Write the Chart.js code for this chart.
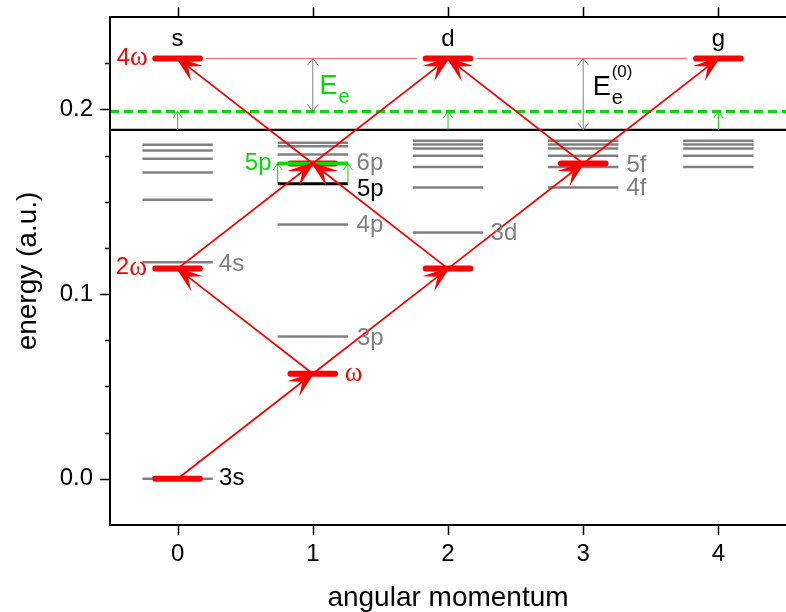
<!DOCTYPE html>
<html>
<head>
<meta charset="utf-8">
<script src="https://cdn.jsdelivr.net/npm/chart.js@4.4.1/dist/chart.umd.min.js"></script>
<style>
  html, body { margin: 0; padding: 0; background: #fff; }
  #wrap { width: 786px; height: 612px; }
</style>
</head>
<body>
<div id="wrap"><canvas id="grafico"></canvas></div>
<script>
// colunas (momento angular) e rotulos dos eixos
const momentos = [0, 1, 2, 3, 4];
const rotulosX = ['0', '1', '2', '3', '4'];
const ticksY = [0, 0.1, 0.2];
const rotulosY = ['0.0', '0.1', '0.2'];
const ticksYmenor = [0.025, 0.05, 0.075, 0.125, 0.15, 0.175, 0.225];

// niveis ligados (u.a., medidos a partir do 3s)
const niveisS = [0, 0.1173, 0.1511, 0.1658, 0.1733, 0.1777, 0.1808];
const niveisP = [0.0770, 0.1377, 0.1710, 0.1755, 0.1800, 0.1819];
const nivel5p = 0.1597;
const nivel5pDesloc = 0.1707;
const niveisD = [0.1334, 0.1577, 0.1688, 0.1749, 0.1788, 0.1810, 0.1830];
const niveisF = [0.1577, 0.1688, 0.1749, 0.1788, 0.1810, 0.1830];
const niveisG = [0.1688, 0.1749, 0.1788, 0.1810, 0.1830];

// limiar de ionizacao e limiar deslocado
const limiar = 0.1889;
const limiarDesloc = 0.1989;

// estados com n fotons (l, energia) e transicoes entre eles
const fotonL = [0, 1, 0, 2, 1, 3, 0, 2, 4];
const fotonE = [0, 0.0569, 0.1138, 0.1138, 0.1707, 0.1707, 0.2276, 0.2276, 0.2276];
const transicoes = [[0, 1], [1, 2], [1, 3], [2, 4], [3, 4], [3, 5], [4, 6], [4, 7], [5, 7], [5, 8]];

const VERMELHO = '#ff0000';
const VERDE = '#00dd00';
const CINZA = '#808080';
const SANS = '"Liberation Sans", Arial, sans-serif';
const SERIF = '"Liberation Serif", "Times New Roman", serif';

function seg(x1, y1, x2, y2) {
    return [{ x: x1, y: y1 }, { x: x2, y: y2 }];
}

function linha(data, cor, largura, ordem, extra) {
    return Object.assign({
        data: data,
        showLine: true,
        fill: false,
        borderColor: cor,
        borderWidth: largura,
        pointRadius: 0,
        order: ordem
    }, extra || {});
}

const datasets = [];
const meia = 0.26;

// niveis cinzas
[niveisS, niveisP, niveisD, niveisF, niveisG].forEach((lista, l) => {
    lista.forEach(e => datasets.push(linha(seg(l - meia, e, l + meia, e), CINZA, 2.5, 10)));
});
datasets.push(linha(seg(1 - meia, nivel5p, 1 + meia, nivel5p), '#000', 3, 9));
datasets.push(linha(seg(-0.5, limiar, 4.5, limiar), '#000', 2.2, 9));

// linha fina 4w
const topo = [6, 7, 8];
for (let i = 0; i < topo.length - 1; i++) {
    const a = topo[i], b = topo[i + 1];
    datasets.push(linha(seg(fotonL[a] + 0.21, fotonE[a], fotonL[b] - 0.23, fotonE[b]), '#ff5a5a', 1, 8));
}

// barras vermelhas
fotonL.forEach((l, i) => {
    datasets.push(linha(seg(l - 0.165, fotonE[i], l + 0.165, fotonE[i]), VERMELHO, 6, 7, { borderCapStyle: 'round' }));
});

// limiar deslocado (tracejado) e 5p deslocado
datasets.push(linha(seg(-0.5, limiarDesloc, 4.5, limiarDesloc), VERDE, 3, 6, { borderDash: [9, 5] }));
datasets.push(linha(seg(1 - meia, nivel5pDesloc, 1 + meia, nivel5pDesloc), VERDE, 3.5, 5));

// setas (haste pelo dataset, cabeca pelo plugin)
const setas = [];
transicoes.forEach(t => {
    setas.push({ x1: fotonL[t[0]], y1: fotonE[t[0]], x2: fotonL[t[1]], y2: fotonE[t[1]], cor: VERMELHO, w: 1.8, cab: 21, ang: 19, cw: 2, cheia: true });
});
setas.push({ x1: 1, y1: limiarDesloc, x2: 1, y2: fotonE[6], cor: CINZA, w: 1, cab: 9, ang: 38, cw: 1, duplo: true });
setas.push({ x1: 3, y1: limiar, x2: 3, y2: fotonE[6], cor: CINZA, w: 1, cab: 9, ang: 38, cw: 1, duplo: true });
[0, 2, 4].forEach(l => {
    setas.push({ x1: l, y1: limiar, x2: l, y2: limiarDesloc, cor: VERDE, w: 1, cab: 8, ang: 35, cw: 1 });
});
[1 - meia, 1 + meia].forEach(l => {
    setas.push({ x1: l, y1: nivel5p, x2: l, y2: nivel5pDesloc, cor: VERDE, w: 1, cab: 8, ang: 35, cw: 1 });
});
setas.forEach(s => datasets.push(linha(seg(s.x1, s.y1, s.x2, s.y2), s.cor, s.w, s.cor === VERMELHO ? 4 : 3)));

function cabeca(ctx, xa, ya, xb, yb, s) {
    const ang = Math.atan2(yb - ya, xb - xa);
    const a = s.ang * Math.PI / 180;
    const p1 = [xb - s.cab * Math.cos(ang - a), yb - s.cab * Math.sin(ang - a)];
    const p2 = [xb - s.cab * Math.cos(ang + a), yb - s.cab * Math.sin(ang + a)];
    ctx.save();
    ctx.strokeStyle = s.cor;
    ctx.fillStyle = s.cor;
    ctx.lineWidth = s.cw;
    ctx.lineJoin = 'miter';
    ctx.beginPath();
    if (s.cheia) {
        // ponta cheia com entalhe
        const k = s.cab * 0.55;
        ctx.moveTo(xb, yb);
        ctx.lineTo(p1[0], p1[1]);
        ctx.lineTo(xb - k * Math.cos(ang), yb - k * Math.sin(ang));
        ctx.lineTo(p2[0], p2[1]);
        ctx.closePath();
        ctx.fill();
        ctx.stroke();
    } else {
        ctx.moveTo(p1[0], p1[1]);
        ctx.lineTo(xb, yb);
        ctx.lineTo(p2[0], p2[1]);
        ctx.stroke();
    }
    ctx.restore();
}

function escreve(ctx, partes, x, y, alinhar) {
    let total = 0;
    partes.forEach(p => { ctx.font = p[1]; total += ctx.measureText(p[0]).width; });
    let cx = alinhar === 'right' ? x - total : (alinhar === 'center' ? x - total / 2 : x);
    ctx.textBaseline = 'middle';
    ctx.textAlign = 'left';
    partes.forEach(p => {
        ctx.font = p[1];
        ctx.fillStyle = p[2];
        ctx.fillText(p[0], cx, y + (p[3] || 0));
        cx += ctx.measureText(p[0]).width;
    });
}

const f24 = '24px ' + SANS;
const w26 = '27px ' + SERIF;
const rotulos = [
    { p: [['s', f24, '#000']], x: 0, y: 0.238, a: 'center' },
    { p: [['d', f24, '#000']], x: 2, y: 0.238, a: 'center' },
    { p: [['g', f24, '#000']], x: 4, y: 0.238, a: 'center' },
    { p: [['4', f24, VERMELHO], ['\u03c9', w26, VERMELHO]], x: -0.22, y: 0.2276, a: 'right' },
    { p: [['2', f24, VERMELHO], ['\u03c9', w26, VERMELHO]], x: -0.227, y: 0.1142, a: 'right' },
    { p: [['\u03c9', w26, VERMELHO]], x: 1.237, y: 0.0569, a: 'left' },
    { p: [['3s', f24, '#000']], x: 0.307, y: 0, a: 'left' },
    { p: [['4s', f24, CINZA]], x: 0.305, y: 0.116, a: 'left' },
    { p: [['3p', f24, CINZA]], x: 1.326, y: 0.0758, a: 'left' },
    { p: [['4p', f24, CINZA]], x: 1.324, y: 0.137, a: 'left' },
    { p: [['5p', f24, '#000']], x: 1.326, y: 0.1568, a: 'left' },
    { p: [['6p', f24, CINZA]], x: 1.324, y: 0.1709, a: 'left' },
    { p: [['5p', f24, VERDE]], x: 0.695, y: 0.171, a: 'right' },
    { p: [['3d', f24, CINZA]], x: 2.315, y: 0.133, a: 'left' },
    { p: [['5f', f24, CINZA]], x: 3.32, y: 0.1696, a: 'left' },
    { p: [['4f', f24, CINZA]], x: 3.32, y: 0.1574, a: 'left' }
];

const desenhos = {
    id: 'desenhos',
    afterDatasetsDraw(chart) {
        const ctx = chart.ctx;
        const sx = chart.scales.x, sy = chart.scales.y;
        setas.forEach(s => {
            const xa = sx.getPixelForValue(s.x1), ya = sy.getPixelForValue(s.y1);
            const xb = sx.getPixelForValue(s.x2), yb = sy.getPixelForValue(s.y2);
            cabeca(ctx, xa, ya, xb, yb, s);
            if (s.duplo) cabeca(ctx, xb, yb, xa, ya, s);
        });
    },
    afterDraw(chart) {
        const ctx = chart.ctx;
        const a = chart.chartArea;
        const sx = chart.scales.x, sy = chart.scales.y;
        ctx.save();
        // moldura
        ctx.strokeStyle = '#000';
        ctx.lineWidth = 2;
        ctx.beginPath();
        ctx.moveTo(a.right + 2, a.top);
        ctx.lineTo(a.left, a.top);
        ctx.lineTo(a.left, a.bottom);
        ctx.lineTo(a.right + 2, a.bottom);
        ctx.stroke();
        // marcas
        ctx.lineWidth = 1.5;
        ctx.beginPath();
        momentos.forEach(m => {
            const x = Math.round(sx.getPixelForValue(m)) + 0.5;
            ctx.moveTo(x, a.bottom); ctx.lineTo(x, a.bottom + 10);
            ctx.moveTo(x, a.top); ctx.lineTo(x, a.top - 10);
        });
        ticksY.forEach(v => {
            const y = Math.round(sy.getPixelForValue(v)) + 0.5;
            ctx.moveTo(a.left, y); ctx.lineTo(a.left - 10, y);
        });
        ticksYmenor.forEach(v => {
            const y = Math.round(sy.getPixelForValue(v)) + 0.5;
            ctx.moveTo(a.left, y); ctx.lineTo(a.left - 5, y);
        });
        ctx.stroke();
        // rotulos dos ticks
        ctx.fillStyle = '#000';
        ctx.font = '24px ' + SANS;
        ctx.textBaseline = 'middle';
        ctx.textAlign = 'center';
        momentos.forEach((m, i) => ctx.fillText(rotulosX[i], sx.getPixelForValue(m), a.bottom + 29));
        ctx.textAlign = 'right';
        ticksY.forEach((v, i) => ctx.fillText(rotulosY[i], a.left - 17, sy.getPixelForValue(v)));
        // titulos
        ctx.font = '28px ' + SANS;
        ctx.textAlign = 'center';
        ctx.fillText('angular momentum', (a.left + a.right) / 2, 598);
        ctx.save();
        ctx.translate(28, (a.top + a.bottom) / 2);
        ctx.rotate(-Math.PI / 2);
        ctx.fillText('energy (a.u.)', 0, 0);
        ctx.restore();
        // rotulos dos niveis
        rotulos.forEach(r => escreve(ctx, r.p, sx.getPixelForValue(r.x), sy.getPixelForValue(r.y), r.a));
        // E_e
        let x = sx.getPixelForValue(1.05), y = sy.getPixelForValue(0.2122);
        ctx.textAlign = 'left';
        ctx.fillStyle = VERDE;
        ctx.font = '27px ' + SANS;
        ctx.fillText('E', x, y);
        let w = ctx.measureText('E').width;
        ctx.font = '20px ' + SANS;
        ctx.fillText('e', x + w + 1, y + 11);
        // E_e^(0)
        x = sx.getPixelForValue(3.07); y = sy.getPixelForValue(0.2117);
        ctx.fillStyle = '#000';
        ctx.font = '27px ' + SANS;
        ctx.fillText('E', x, y);
        w = ctx.measureText('E').width;
        ctx.font = '20px ' + SANS;
        ctx.fillText('e', x + w + 1, y + 11);
        ctx.font = '17px ' + SANS;
        ctx.fillText('(0)', x + w + 1, y - 15);
        ctx.restore();
    }
};

const ctx = document.getElementById('grafico');

const meuGrafico = new Chart(ctx, {
    type: 'scatter',
    data: { datasets: datasets },
    options: {
        animation: false,
        responsive: true,
        maintainAspectRatio: false,
        layout: { padding: { left: 110, top: 17, right: 0, bottom: 87 } },
        plugins: { legend: { display: false }, tooltip: { enabled: false } },
        scales: {
            x: { type: 'linear', min: -0.5, max: 4.5, display: false },
            y: { type: 'linear', min: -0.025, max: 0.25, display: false }
        }
    },
    plugins: [desenhos]
});
</script>
</body>
</html>
